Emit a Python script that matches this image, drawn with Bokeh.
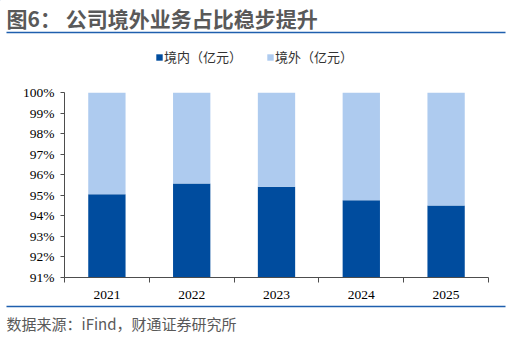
from bokeh.plotting import figure
from bokeh.layouts import column
from bokeh.models import (FixedTicker, PrintfTickFormatter, Range1d,
                          Legend, LegendItem, ColumnDataSource)
from bokeh.core.properties import value
from bokeh.embed import file_html
from bokeh.resources import INLINE

# Share of revenue by region, in percent
years = [2021, 2022, 2023, 2024, 2025]
domestic = [95.05, 95.57, 95.42, 94.76, 94.50]
overseas = [4.95, 4.43, 4.58, 5.24, 5.50]
y_ticks = [91, 92, 93, 94, 95, 96, 97, 98, 99, 100]
series_names = ["境内（亿元）", "境外（亿元）"]
colors = ["#004C9E", "#AECBEF"]

title_text = "图6： 公司境外业务占比稳步提升"
source_text = "数据来源：iFind，财通证券研究所"

W = 510
TOP_H, MAIN_H, BOT_H = 72, 232, 33
CJK = value("Noto Sans CJK SC")
RULE = "#1F5FAE"
GREY = "#595959"


def banner(height):
    """A bare strip whose data units are its own pixels (y grows downward)."""
    f = figure(width=W, height=height, output_backend="svg",
               toolbar_location=None, x_range=Range1d(0, W),
               y_range=Range1d(height, 0), min_border=0, frame_align=False)
    f.axis.visible = False
    f.grid.visible = False
    f.outline_line_color = None
    return f


# heading strip: title, rule and legend
top = banner(TOP_H)
top.text(x=[6], y=[17], text=[title_text], text_font=CJK,
         text_font_size="21px", text_font_style="bold", text_color=GREY,
         text_baseline="middle")
top.segment(x0=[6], y0=[32], x1=[505], y1=[32], line_color=RULE, line_width=1.6)
# legend keys: one off-canvas bar per series, only their swatches show
keys = [top.vbar(x=[-100], top=[0], bottom=[-10], width=1, fill_color=c,
                 line_color=None) for c in colors]
legend = Legend(items=[LegendItem(label=n, renderers=[k])
                       for n, k in zip(series_names, keys)],
                orientation="horizontal", location=(155, TOP_H - 66),
                glyph_width=8, glyph_height=8, label_height=14,
                label_standoff=1, spacing=24, padding=0, margin=0,
                label_text_font="Noto Sans CJK SC", label_text_font_size="13px",
                label_text_color="#333333",
                border_line_color=None, background_fill_alpha=0)
top.add_layout(legend, "center")

# main chart
src = ColumnDataSource(dict(year=years, domestic=domestic, overseas=overseas))
p = figure(width=W, height=MAIN_H, output_backend="svg", toolbar_location=None,
           x_range=Range1d(2020.5, 2025.5), y_range=Range1d(91, 100),
           min_border_left=64, min_border_right=22,
           min_border_top=20, min_border_bottom=27, frame_align=False)
p.outline_line_color = None
p.xgrid.visible = False
p.ygrid.visible = False

p.vbar_stack(["domestic", "overseas"], x="year", width=0.44, source=src,
             color=colors, line_color=None)

axis_color = "#4D4D4D"
p.yaxis.ticker = FixedTicker(ticks=y_ticks)
p.yaxis.formatter = PrintfTickFormatter(format="%d%%")
p.yaxis.axis_line_color = axis_color
p.yaxis.major_tick_line_color = axis_color
p.yaxis.major_tick_in = 0
p.yaxis.major_tick_out = 4
p.yaxis.minor_tick_line_color = None
p.yaxis.major_label_text_font = "Liberation Serif"
p.yaxis.major_label_text_font_size = "13.5px"
p.yaxis.major_label_text_color = "#000000"
p.yaxis.major_label_standoff = 6

bounds = [y - 0.5 for y in years] + [years[-1] + 0.5]
p.xaxis.ticker = FixedTicker(ticks=years, minor_ticks=bounds)
p.xaxis.axis_line_color = axis_color
p.xaxis.major_tick_line_color = None
p.xaxis.major_tick_in = 0
p.xaxis.major_tick_out = 0
p.xaxis.minor_tick_line_color = axis_color
p.xaxis.minor_tick_in = 0
p.xaxis.minor_tick_out = 5
p.xaxis.major_label_text_font = "Liberation Serif"
p.xaxis.major_label_text_font_size = "13.5px"
p.xaxis.major_label_text_color = "#000000"
p.xaxis.major_label_standoff = 8

# footer strip: rule and source note
bot = banner(BOT_H)
bot.segment(x0=[6], y0=[2], x1=[505], y1=[2], line_color=RULE, line_width=1.6)
bot.text(x=[6], y=[19], text=[source_text], text_font=CJK,
         text_font_size="15px", text_color=GREY, text_baseline="middle")

layout = column(top, p, bot, spacing=0)
open("out.html", "w").write(file_html(layout, INLINE))
